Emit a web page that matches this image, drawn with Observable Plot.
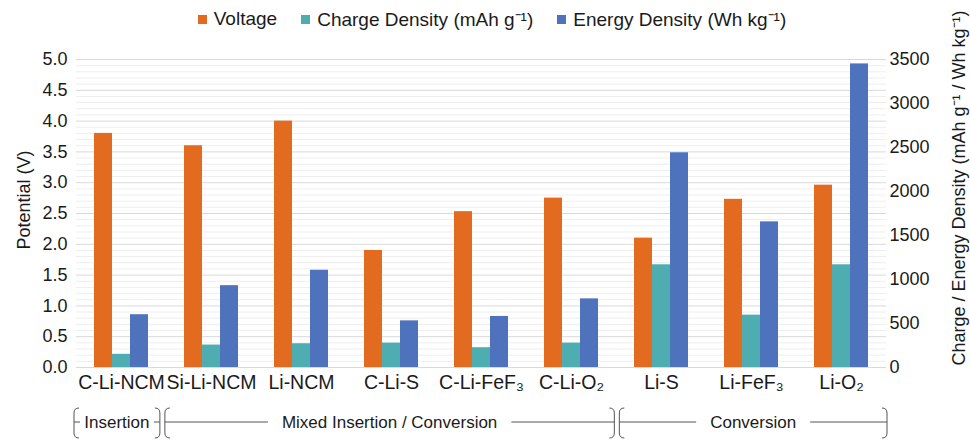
<!DOCTYPE html>
<html><head><meta charset="utf-8">
<script src="https://cdn.jsdelivr.net/npm/d3@7"></script>
<script src="https://cdn.jsdelivr.net/npm/@observablehq/plot@0.6"></script>
<style>
body{margin:0;background:#fff;font-family:"Liberation Sans",Arial,sans-serif;}
#wrap{position:relative;width:970px;height:440px}
#legend{position:absolute;left:0;top:0;width:970px;height:38px;display:flex;justify-content:center;align-items:center;font-size:19px;color:#1a1a1a;padding-left:14px;box-sizing:border-box;z-index:2}
.item{display:flex;align-items:center;margin:0 12px}
.sw{width:9px;height:9px;margin-right:7px}
</style></head><body>
<div id="wrap"><div id="legend"></div><div id="chart"></div></div>
<script>
const categories = ["C-Li-NCM","Si-Li-NCM","Li-NCM","C-Li-S","C-Li-FeF₃","C-Li-O₂","Li-S","Li-FeF₃","Li-O₂"];
const voltage = [3.8, 3.6, 4.0, 1.9, 2.53, 2.75, 2.1, 2.73, 2.96];
const chargeDensity = [150, 255, 270, 277, 225, 277, 1167, 595, 1167];
const energyDensity = [600, 930, 1105, 530, 580, 780, 2440, 1655, 3450];
const seriesNames = ["Voltage", "Charge Density (mAh g⁻¹)", "Energy Density (Wh kg⁻¹)"];
const seriesColors = ["#E26B1F", "#4DADB0", "#4F72BD"];
const leftTicks = [0, 0.5, 1.0, 1.5, 2.0, 2.5, 3.0, 3.5, 4.0, 4.5, 5.0];
const minorTicks = [0.1,0.2,0.3,0.4,0.6,0.7,0.8,0.9,1.1,1.2,1.3,1.4,1.6,1.7,1.8,1.9,2.1,2.2,2.3,2.4,2.6,2.7,2.8,2.9,3.1,3.2,3.3,3.4,3.6,3.7,3.8,3.9,4.1,4.2,4.3,4.4,4.6,4.7,4.8,4.9];
const rightTicks = [0, 500, 1000, 1500, 2000, 2500, 3000, 3500];
const leftTitle = "Potential (V)";
const rightTitle = "Charge / Energy Density (mAh g⁻¹ / Wh kg⁻¹)";
const groups = [
  {label: "Insertion", from: "C-Li-NCM", to: "C-Li-NCM"},
  {label: "Mixed Insertion / Conversion", from: "Si-Li-NCM", to: "C-Li-O₂"},
  {label: "Conversion", from: "Li-S", to: "Li-O₂"}
];
const leftMax = 5.0, rightMax = 3500;
const ratio = rightMax / leftMax;

const rows = categories.flatMap((c, i) => [
  {category: c, series: seriesNames[0], v: voltage[i]},
  {category: c, series: seriesNames[1], v: chargeDensity[i] / ratio},
  {category: c, series: seriesNames[2], v: energyDensity[i] / ratio}
]);

// legend
const leg = d3.select("#legend");
seriesNames.forEach((s, i) => {
  const it = leg.append("div").attr("class", "item");
  it.append("div").attr("class", "sw").style("background", seriesColors[i]);
  it.append("span").text(s);
});

const font = "'Liberation Sans', Arial, sans-serif";
const chart = Plot.plot({
  width: 970, height: 440,
  marginTop: 59, marginBottom: 73, marginLeft: 72, marginRight: 80,
  style: {fontFamily: font, fontSize: "18px", color: "#1a1a1a", background: "#fff"},
  fx: {domain: categories, padding: 0, label: null},
  x: {domain: seriesNames, paddingInner: 0, paddingOuter: 1, axis: null},
  y: {domain: [0, leftMax]},
  color: {domain: seriesNames, range: seriesColors},
  marks: [
    Plot.ruleY(minorTicks, {stroke: "#eeeeee"}),
    Plot.ruleY(leftTicks, {stroke: "#d9d9d9"}),
    Plot.barY(rows, {fx: "category", x: "series", y: "v", fill: "series"}),
    Plot.axisY(leftTicks, {anchor: "left", tickSize: 0, tickPadding: 9, tickFormat: d => d.toFixed(1), label: null}),
    Plot.axisY(rightTicks.map(t => t / ratio), {anchor: "right", tickSize: 0, tickPadding: 3,
      tickFormat: d => String(Math.round(d * ratio)), label: null}),
    Plot.axisFx({anchor: "bottom", tickSize: 0, tickPadding: 8, label: null, fontSize: 19.5})
  ]
});
document.getElementById("chart").appendChild(chart);

const svg = d3.select(chart);
// axis titles
svg.append("text").attr("transform", "translate(24,200) rotate(-90)")
  .attr("text-anchor", "middle").attr("dy", "0.35em").attr("font-family", font)
  .attr("font-size", 18).attr("fill", "#1a1a1a").text(leftTitle);
svg.append("text").attr("transform", "translate(959,188) rotate(-90)")
  .attr("text-anchor", "middle").attr("dy", "0.35em").attr("font-family", font)
  .attr("font-size", 18).attr("fill", "#1a1a1a").text(rightTitle);

// group brackets below the category axis, positioned by the fx scale
const fxs = chart.scale("fx");
const band = d3.scaleBand(fxs.domain, fxs.range)
  .paddingInner(fxs.paddingInner ?? 0).paddingOuter(fxs.paddingOuter ?? 0);
const g = svg.append("g").attr("font-family", font).attr("font-size", 17).attr("fill", "#1a1a1a");
const yMid = 422, yTop = 408, yBot = 438, r = 5;
groups.forEach(gr => {
  const x0 = band(gr.from) + 2, x1 = band(gr.to) + band.bandwidth() - 3;
  const cx = (x0 + x1) / 2;
  const t = g.append("text").attr("x", cx).attr("y", yMid).attr("dy", "0.35em")
    .attr("text-anchor", "middle").text(gr.label);
  const w = t.node().getComputedTextLength();
  const gap = Math.min(14, Math.max(2, (x1 - x0 - w) / 2 - 6));
  const st = "#555";
  g.append("path").attr("fill", "none").attr("stroke", st)
    .attr("d", `M${x0 + r},${yTop} Q${x0},${yTop} ${x0},${yTop + r} V${yBot - r} Q${x0},${yBot} ${x0 + r},${yBot}`);
  g.append("path").attr("fill", "none").attr("stroke", st)
    .attr("d", `M${x1 - r},${yTop} Q${x1},${yTop} ${x1},${yTop + r} V${yBot - r} Q${x1},${yBot} ${x1 - r},${yBot}`);
  g.append("line").attr("stroke", st).attr("x1", x0).attr("x2", cx - w / 2 - gap).attr("y1", yMid).attr("y2", yMid);
  g.append("line").attr("stroke", st).attr("x1", cx + w / 2 + gap).attr("x2", x1).attr("y1", yMid).attr("y2", yMid);
});
</script>
</body></html>
